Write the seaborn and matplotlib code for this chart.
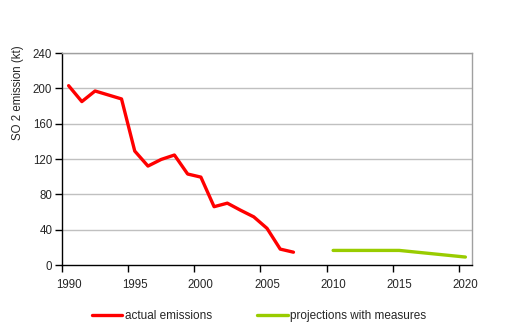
import matplotlib
matplotlib.use("Agg")
import matplotlib.pyplot as plt
import seaborn as sns
import pandas as pd
import numpy as np
from matplotlib.ticker import FixedLocator
from matplotlib.lines import Line2D

actual_years = list(range(1990, 2008))
actual_values = [203, 185, 197, 192.5, 188, 129, 112, 119.5, 124.5, 103, 99.5, 66, 70, 62, 54.5, 41.5, 18, 14.5]
proj_years = list(range(2010, 2021))
proj_values = [16.5, 16.5, 16.5, 16.5, 16.5, 16.5, 15, 13.5, 12, 10.5, 9]
series_names = ["actual emissions", "projections with measures"]
y_ticks = [0, 40, 80, 120, 160, 200, 240]
x_labels = [1990, 1995, 2000, 2005, 2010, 2015, 2020]

df = pd.concat([
    pd.DataFrame({"year": actual_years, "value": actual_values, "series": series_names[0]}),
    pd.DataFrame({"year": proj_years, "value": proj_values, "series": series_names[1]}),
])

sns.set_theme(style="white")
plt.rcParams['font.family'] = ['Liberation Sans', 'DejaVu Sans']

fig = plt.figure(figsize=(5.12, 3.32), dpi=100)
ax = fig.add_axes([62/512, 1-265/332, 410/512, 212/332])

palette = {series_names[0]: "#ff0000", series_names[1]: "#99cc00"}
sns.lineplot(data=df, x="year", y="value", hue="series", palette=palette,
             linewidth=2.4, ax=ax, legend=False)

ax.set_xlim(1989.5, 2020.5)
ax.set_ylim(0, 240)
ax.set_yticks(y_ticks)
ax.set_yticklabels([str(v) for v in y_ticks], fontsize=8.3)
for v in y_ticks[1:]:
    ax.axhline(v, color="#c0c0c0", lw=1, zorder=0)

# ticks at category boundaries, labels at category centers
ax.xaxis.set_major_locator(FixedLocator([y - 0.5 for y in x_labels]))
ax.xaxis.set_minor_locator(FixedLocator(x_labels))
ax.set_xticklabels([])
ax.set_xticklabels([str(v) for v in x_labels], minor=True, fontsize=8.3)
ax.tick_params(axis="x", which="major", length=5, width=1, color="black", direction="out", bottom=True)
ax.tick_params(axis="x", which="minor", length=0, pad=10, bottom=True)
ax.tick_params(axis="y", length=5, width=1, color="black", direction="out", left=True, pad=2)

ax.set_xlabel("")
ax.set_ylabel("")
for s in ["left", "bottom"]:
    ax.spines[s].set_color("black")
    ax.spines[s].set_linewidth(1)
for s in ["top", "right"]:
    ax.spines[s].set_color("#a0a0a0")
    ax.spines[s].set_linewidth(1)

fig.text(18/512, 1-93/332, "SO 2 emission (kt)", rotation=90, ha="center", va="center", fontsize=8.3)

# legend
handles = [Line2D([0], [0], color=palette[n], lw=2.4) for n in series_names]
fig.legend(handles, series_names, loc="center", bbox_to_anchor=(259.5/512, 1-316/332),
           ncol=2, frameon=False, fontsize=8.5, handlelength=2.55, handletextpad=0.25,
           columnspacing=3.8)

fig.savefig("out.png", dpi=100)
